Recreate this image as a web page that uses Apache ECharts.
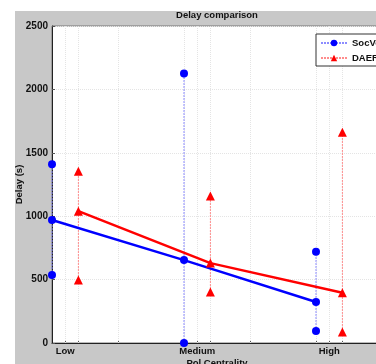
<!DOCTYPE html>
<html>
<head>
<meta charset="utf-8">
<script src="https://cdn.jsdelivr.net/npm/echarts@6/dist/echarts.min.js"></script>
<style>
  html, body { margin: 0; padding: 0; background: #fff; }
  #main { position: absolute; left: 15px; top: 11px; width: 361px; height: 353px; background: #c8c8c8; }
</style>
</head>
<body>
<div id="main"></div>
<script>
// categories and their positions on the numeric x axis
const categories = ['Low', 'Medium', 'High'];
const catPos = [1, 2, 3];
const socveX = [0.9, 1.9, 2.9];
const daerX = [1.1, 2.1, 3.1];

// delay values (s)
const socveMean = [970, 654, 323];
const socveMin = [536, 0, 95];
const socveMax = [1410, 2125, 720];
const daerMean = [1040, 630, 397];
const daerMin = [497, 402, 87];
const daerMax = [1355, 1160, 1662];

// vertical grid positions
const xGrid = [1, 1.1, 1.4, 1.9, 2, 2.1, 2.4, 2.9, 3, 3.1];
const yTicks = [0, 500, 1000, 1500, 2000, 2500];

const BLUE = '#0000ff';
const RED = '#ff0000';
const FONT = '"Liberation Sans", Arial, sans-serif';

function whiskers(name, xs, mins, maxs, color, lineColor, symbol, size) {
  return xs.map((x, i) => ({
    name: name,
    type: 'line',
    clip: false,
    symbol: symbol,
    symbolSize: size,
    itemStyle: { color: color, borderWidth: 0 },
    lineStyle: { color: lineColor, width: 1, type: [2, 1] },
    data: [[x, mins[i]], [x, maxs[i]]],
    z: 5
  }));
}

window.onload = function () {
  const myChart = echarts.init(document.getElementById('main'));
  const option = {
    animation: false,
    title: {
      text: 'Delay comparison',
      left: 202,
      top: -1,
      padding: 0,
      textAlign: 'center',
      textStyle: { fontSize: 9.5, fontWeight: 'bold', color: '#111', fontFamily: FONT }
    },
    legend: {
      data: ['SocVe', 'DAER'],
      left: 301,
      top: 23,
      orient: 'vertical',
      backgroundColor: '#fff',
      borderColor: '#333',
      borderWidth: 1,
      borderRadius: 0,
      padding: [4, 4, 3, 4],
      itemWidth: 26,
      itemHeight: 8,
      itemGap: 5,
      textStyle: { fontSize: 9.5, fontWeight: 'bold', color: '#111', fontFamily: FONT }
    },
    grid: {
      left: 37,
      top: 15,
      width: 330,
      height: 317,
      outerBoundsMode: 'none',
      containLabel: false,
      show: true,
      backgroundColor: '#fff',
      borderColor: '#777',
      borderWidth: 1
    },
    xAxis: {
      type: 'value',
      min: 0.9,
      max: 3.4,
      name: 'Pol Centrality',
      nameLocation: 'middle',
      nameGap: 15,
      nameMoveOverlap: false,
      nameTextStyle: { fontSize: 9.5, fontWeight: 'bold', color: '#111', fontFamily: FONT },
      axisLine: { onZero: false, lineStyle: { color: '#222' } },
      axisTick: { show: true, inside: true, length: 3, customValues: xGrid, lineStyle: { color: '#555' } },
      splitLine: { show: false },
      axisLabel: {
        customValues: catPos,
        margin: 3,
        fontSize: 9.5,
        fontWeight: 'bold',
        color: '#111',
        fontFamily: FONT,
        formatter: v => categories[catPos.indexOf(Math.round(v))] || ''
      }
    },
    yAxis: {
      type: 'value',
      min: 0,
      max: 2500,
      interval: 500,
      name: 'Delay (s)',
      nameLocation: 'middle',
      nameRotate: 90,
      nameGap: 28,
      nameMoveOverlap: false,
      nameTextStyle: { fontSize: 9.5, fontWeight: 'bold', color: '#111', fontFamily: FONT },
      axisLine: { show: true, lineStyle: { color: '#222' } },
      axisTick: { show: true, inside: true, length: 3, lineStyle: { color: '#555' } },
      splitLine: { show: true, lineStyle: { color: '#e4e4e4', type: 'dotted' } },
      axisLabel: {
        margin: 4,
        fontSize: 10,
        fontWeight: 'bold',
        color: '#111',
        fontFamily: FONT,
        formatter: v => yTicks.indexOf(v) >= 0 ? String(v) : ''
      }
    },
    series: [
      {
        name: 'grid',
        type: 'line',
        data: [],
        silent: true,
        z: 1,
        markLine: {
          silent: true,
          symbol: 'none',
          z: 1,
          label: { show: false },
          lineStyle: { color: '#e4e4e4', type: 'dotted', width: 1 },
          data: xGrid.map(v => ({ xAxis: v }))
        }
      },
      ...whiskers('SocVe', socveX, socveMin, socveMax, BLUE, '#8c8cff', 'circle', 8),
      ...whiskers('DAER', daerX, daerMin, daerMax, RED, '#ff8c8c', 'triangle', 9),
      {
        name: 'SocVe',
        type: 'line',
        clip: false,
        symbol: 'circle',
        symbolSize: 8,
        itemStyle: { color: BLUE, borderWidth: 0 },
        lineStyle: { color: BLUE, width: 2.5 },
        data: socveX.map((x, i) => [x, socveMean[i]]),
        z: 6
      },
      {
        name: 'DAER',
        type: 'line',
        clip: false,
        symbol: 'triangle',
        symbolSize: 9,
        itemStyle: { color: RED, borderWidth: 0 },
        lineStyle: { color: RED, width: 2.5 },
        data: daerX.map((x, i) => [x, daerMean[i]]),
        z: 6
      }
    ]
  };
  myChart.setOption(option, true);
};
</script>
</body>
</html>
